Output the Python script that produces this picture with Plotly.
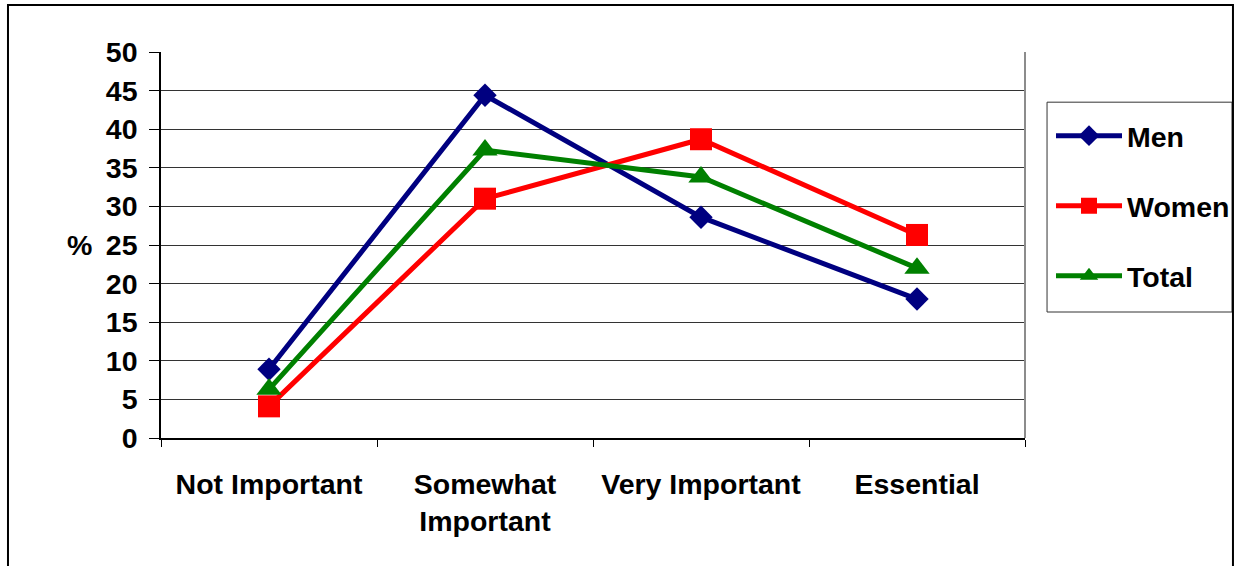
import plotly.graph_objects as go

# Survey responses (% of respondents) by importance rating
categories = ["Not Important", "Somewhat<br>Important", "Very Important", "Essential"]
men = [8.9, 44.4, 28.6, 18.0]
women = [4.1, 31.0, 38.7, 26.3]
total = [6.3, 37.3, 33.8, 22.0]
y_ticks = [0, 5, 10, 15, 20, 25, 30, 35, 40, 45, 50]

FONT = dict(family="Liberation Sans, Arial, sans-serif", size=28.5, color="black", weight="bold")

series = [
    ("Men", men, "#000080", "diamond", 18),
    ("Women", women, "#FF0000", "square", 22),
    ("Total", total, "#008000", "triangle-up", 22),
]

fig = go.Figure()
for name, vals, color, symbol, size in series:
    fig.add_trace(go.Scatter(
        x=categories, y=vals, name=name, legendgroup=name,
        mode="lines+markers",
        line=dict(color=color, width=5),
        marker=dict(symbol=symbol, size=size, color=color),
    ))

fig.update_layout(
    width=1235, height=566,
    margin=dict(l=161, r=210, t=52, b=128, autoexpand=False),
    paper_bgcolor="white", plot_bgcolor="white",
    font=FONT,
    showlegend=True,
    legend=dict(
        x=1.0301, y=0.848, xanchor="left", yanchor="top",
        borderwidth=0, bgcolor="rgba(0,0,0,0)",
        font=FONT, tracegroupgap=30, itemwidth=66,
    ),
    xaxis=dict(
        type="category", range=[-0.5, 3.5],
        showline=True, linecolor="black", linewidth=1.5,
        ticks="outside", ticklen=7, tickcolor="black", tickson="boundaries",
        showgrid=False, ticklabelstandoff=20, tickfont=FONT,
    ),
    yaxis=dict(
        range=[0, 50], tickvals=y_ticks,
        showline=True, linecolor="black", linewidth=1.5,
        ticks="outside", ticklen=10, tickcolor="black",
        showgrid=True, gridcolor="#333333", gridwidth=1,
        zeroline=False, ticklabelstandoff=6, tickfont=FONT,
    ),
    shapes=[
        # right edge of the plot area
        dict(type="line", xref="paper", yref="paper", x0=1, x1=1, y0=0, y1=1,
             line=dict(color="#8c8c8c", width=2)),
        # legend frame
        dict(type="rect", xref="paper", yref="paper",
             x0=1.0255, x1=1.2396, y0=0.3264, y1=0.870,
             line=dict(color="#333333", width=1), layer="below"),
        # outer chart frame
        dict(type="rect", xref="paper", yref="paper",
             x0=-0.1771, x1=1.2407, y0=-0.5, y1=1.1218,
             line=dict(color="black", width=2)),
    ],
    annotations=[
        dict(text="%", xref="paper", yref="paper", x=-0.094, y=0.5,
             showarrow=False, font=FONT, xanchor="center", yanchor="middle"),
    ],
)

fig.write_html("out.html")
